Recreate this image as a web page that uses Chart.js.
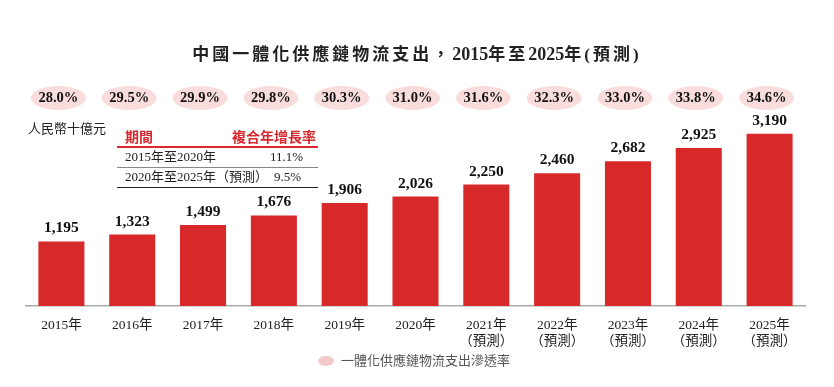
<!DOCTYPE html>
<html>
<head>
<meta charset="utf-8">
<script src="https://cdn.jsdelivr.net/npm/chart.js@4.4.1/dist/chart.umd.min.js"></script>
<style>
  body { margin: 0; background: #fff; }
  #wrap { position: relative; width: 834px; height: 387px; overflow: hidden; }
  canvas { position: absolute; left: 0; top: 0; }
  .t { position: absolute; white-space: nowrap; font-family: "Liberation Serif", "Noto Sans CJK TC", serif; color: #222; }
  #title { left: 0; width: 834px; top: 40px; text-align: center; font-size: 17px; font-weight: bold; letter-spacing: 3px; }
  #title b { letter-spacing: 0; font-size: 18px; }
  #unit { left: 28px; top: 118px; font-size: 13px; font-family: "Noto Sans CJK TC", sans-serif; }
  #table { position: absolute; left: 117px; top: 128px; width: 201px; font-family: "Liberation Serif", "Noto Sans CJK TC", serif; font-size: 13px; line-height: 16px; color: #222; }
  #table .row { position: relative; height: 19px; }
  #table .hd { color: #d7282f; font-family: "Noto Sans CJK TC", sans-serif; font-weight: bold; font-size: 14px; border-bottom: 2px solid #d7282f; height: 18px; }
  #table .r1 { border-bottom: 1px solid #888; }
  #table .r2 { border-bottom: 1.5px solid #222; }
  #table span { position: absolute; top: 1px; }
  #table .hd span { top: 0; }
  #legend { left: 318px; top: 350px; font-size: 13px; color: #555; font-family: "Noto Sans CJK TC", sans-serif; }
  #legend i { display: inline-block; width: 16px; height: 10px; border-radius: 50%; background: #f4c9c9; margin-right: 7px; vertical-align: -1px; }
</style>
</head>
<body>
<div id="wrap">
  <canvas id="chart" width="834" height="387"></canvas>
  <div class="t" id="title">中國一體化供應鏈物流支出，<b>2015</b>年至<b>2025</b>年(預測)</div>
  <div class="t" id="unit">人民幣十億元</div>
  <div id="table">
    <div class="row hd"><span style="left:8px">期間</span><span style="right:2px">複合年增長率</span></div>
    <div class="row r1"><span style="left:8px">2015年至2020年</span><span style="left:153px">11.1%</span></div>
    <div class="row r2"><span style="left:8px">2020年至2025年（預測）</span><span style="left:157px">9.5%</span></div>
  </div>
  <div class="t" id="legend"><i></i>一體化供應鏈物流支出滲透率</div>
</div>
<script>
const years = ['2015年', '2016年', '2017年', '2018年', '2019年', '2020年',
  ['2021年', '（預測）'], ['2022年', '（預測）'], ['2023年', '（預測）'], ['2024年', '（預測）'], ['2025年', '（預測）']];
const spending = [1195, 1323, 1499, 1676, 1906, 2026, 2250, 2460, 2682, 2925, 3190];
const penetration = [28.0, 29.5, 29.9, 29.8, 30.3, 31.0, 31.6, 32.3, 33.0, 33.8, 34.6];

const labelsPlugin = {
  id: 'labels',
  afterDatasetsDraw(chart) {
    const ctx = chart.ctx;
    const meta = chart.getDatasetMeta(0);
    const x = chart.scales.x;
    ctx.save();
    ctx.textAlign = 'center';
    ctx.textBaseline = 'middle';
    meta.data.forEach((bar, i) => {
      ctx.fillStyle = '#111';
      ctx.font = 'bold 15.5px "Liberation Serif", serif';
      ctx.fillText(spending[i].toLocaleString('en-US'), bar.x, bar.y - 13);
      const cx = x.getPixelForValue(i) - 3;
      ctx.fillStyle = '#f9dcdc';
      ctx.beginPath();
      ctx.ellipse(cx, 98, 27.5, 12, 0, 0, Math.PI * 2);
      ctx.fill();
      ctx.fillStyle = '#111';
      ctx.font = 'bold 14.5px "Liberation Serif", serif';
      ctx.fillText(penetration[i].toFixed(1) + '%', cx, 98);
    });
    ctx.restore();
  }
};

new Chart(document.getElementById('chart'), {
  type: 'bar',
  data: {
    labels: years,
    datasets: [{
      data: spending,
      backgroundColor: '#d7282a',
      borderWidth: 0,
      barPercentage: 0.65,
      categoryPercentage: 1
    }]
  },
  options: {
    responsive: false,
    animation: false,
    layout: { padding: { left: 26, right: 29, top: 36, bottom: 0 } },
    plugins: { legend: { display: false }, tooltip: { enabled: false } },
    scales: {
      x: {
        grid: { display: false },
        border: { display: true, color: '#aaa', width: 1.5 },
        ticks: { color: '#222', font: { size: 13.5, family: '"Liberation Serif", "Noto Sans CJK TC", serif' }, padding: 3, maxRotation: 0, autoSkip: false },
        afterFit(s) { s.height = 81; }
      },
      y: { display: false, min: 0, max: 5000 }
    }
  },
  plugins: [labelsPlugin]
});
</script>
</body>
</html>
